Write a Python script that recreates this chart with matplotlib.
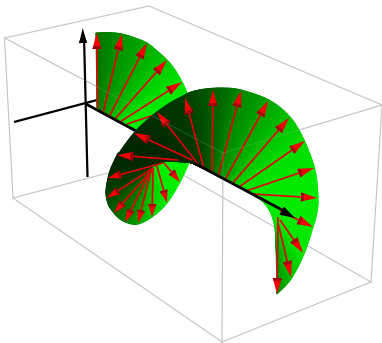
import numpy as np
import matplotlib
matplotlib.use('Agg')
import matplotlib.pyplot as plt
from matplotlib.collections import LineCollection
from matplotlib.colors import LinearSegmentedColormap

# bounding box edges
box_edges = [((4.5, 38), (149, 6)), ((149, 6), (382, 105)), ((4.5, 38), (223, 153)),
             ((223, 153), (382, 105)), ((4.5, 38), (13, 198)), ((223, 153), (222, 342)),
             ((382, 105), (371, 282)), ((13, 198), (222, 342)), ((222, 342), (371, 282)),
             ((13, 198), (157, 160)), ((157, 160), (371, 282))]
front_edges = [((4.5, 38), (223, 153)), ((223, 153), (382, 105)), ((223, 153), (222, 342))]

# surface strips: rim point, point on the axis, green level
lobe1_rim = [(96, 33), (108, 32.5), (122, 34), (135, 38), (147, 43), (157, 51), (167, 60),
             (175, 70), (182, 82), (187, 93), (195, 115)]
lobe1_base = [(97, 108), (100, 110), (103, 113), (106, 115), (109, 117), (112, 118),
              (115, 119), (118, 121), (120, 122), (124, 124), (133, 130)]
lobe1_green = [115, 130, 145, 158, 170, 185, 200, 215, 228, 235, 235]

lobe2_rim = [(277, 294), (291, 279), (304, 254), (313, 227), (317, 212), (318, 197), (315, 170),
             (304, 140), (290, 117), (269, 100), (241, 90), (223, 88), (205, 89), (191, 92),
             (183, 96), (170, 103), (157, 112), (145, 122), (134, 133), (124, 146), (115, 159)]
lobe2_base = [(276, 245), (275, 228), (272, 216), (268, 208), (262, 201), (253, 195), (246, 191),
              (239, 187), (232, 183), (225, 180), (218, 176), (212, 173), (208, 171), (205, 169),
              (202, 168), (200, 167), (198, 166), (196, 165), (194, 164), (192, 163), (187, 162)]
lobe2_green = [140, 190, 230, 235, 235, 235, 232, 220, 195, 165, 135, 105, 85, 70,
               60, 55, 50, 45, 40, 38, 38]

lobe3_rim = [(118, 153), (111, 168), (108, 178), (106, 190), (106.5, 198), (109, 206), (114, 213),
             (120, 219), (128, 223), (138, 224), (152, 217), (167, 203), (180, 182), (189, 163)]
lobe3_base = [(190, 162), (175, 162), (165, 163), (157, 166), (153, 168), (152, 169), (151, 170),
              (150, 171), (150, 172), (151, 171), (153, 168), (157, 166), (164, 163), (175, 160)]
lobe3_green = [40, 42, 50, 60, 70, 85, 100, 115, 130, 165, 205, 235, 240, 240]

# red arrows, tail and tip
lobe1_tails = [(97.7, 108), (103, 113), (109, 117), (115, 119), (120, 122), (127, 124)]
lobe1_tips = [(96.7, 33), (122, 34), (147, 43), (167, 60), (182, 82), (190, 103)]
lobe2_tails = [(212, 173), (218, 177), (225, 180), (232, 184), (239, 187), (246, 191), (253, 194),
               (204, 169), (198, 164), (192, 160), (178, 160)]
lobe2_tips = [(213, 90), (241, 91), (268, 101), (289, 118), (305, 141), (314, 168), (317, 198),
              (185, 98), (157, 112), (134, 133), (117, 155)]
lobe3_tails = [(163, 163), (153, 168), (152, 170), (150, 172), (151, 171), (153, 168), (157, 166),
               (164, 163)]
lobe3_tips = [(108, 178), (107, 198), (114, 213), (125, 222), (138, 223), (152, 217), (167, 203),
              (180, 182)]
end_tails = [(280, 211), (280, 220), (278, 223), (278, 217)]
end_tips = [(313, 227), (303, 253), (291, 277), (277, 294)]

# black axes
axis_v = [(87.5, 177), (84, 36)]
axis_v_tip = (82.7, 28)
axis_back = [(14, 122), (97, 100)]
axis_main_a = [(86, 104), (136, 131)]
axis_main_b = [(194, 163), (286, 212)]
axis_main_tip = (295, 218)

greens = LinearSegmentedColormap.from_list('greens', [(0, 0, 0), (0, 1, 0)])


def smooth(points, n=6):
    # catmull-rom through the read points, so the rim is a curve and not a polygon
    p = np.array(points, float)
    p = np.vstack([2 * p[0] - p[1], p, 2 * p[-1] - p[-2]])
    out = []
    for i in range(1, len(p) - 2):
        for t in np.linspace(0, 1, n, endpoint=False):
            out.append(0.5 * (2 * p[i] + (p[i + 1] - p[i - 1]) * t
                              + (2 * p[i - 1] - 5 * p[i] + 4 * p[i + 1] - p[i + 2]) * t ** 2
                              + (3 * p[i] - p[i - 1] - 3 * p[i + 1] + p[i + 2]) * t ** 3))
    out.append(p[-2])
    return np.array(out)


def draw_strip(ax, rim, base, green, z, n=6):
    rim = smooth(rim, n)
    base = smooth(base, n)
    idx = np.linspace(0, len(green) - 1, len(rim))
    g = np.interp(idx, np.arange(len(green)), green) / 255.0
    X = np.vstack([rim[:, 0], base[:, 0]])
    Y = np.vstack([rim[:, 1], base[:, 1]])
    ax.pcolormesh(X, Y, np.vstack([g, g]), shading='gouraud', cmap=greens, vmin=0, vmax=1, zorder=z)
    # thin stroke along the rim for a clean edge
    segs = np.stack([rim[:-1], rim[1:]], axis=1)
    cols = [(0, v, 0) for v in g[:-1]]
    ax.add_collection(LineCollection(segs, colors=cols, linewidths=0.5, zorder=z))


def draw_head(ax, tip, direction, length, width, colour, dark, z):
    tip = np.array(tip, float)
    d = np.array(direction, float)
    d = d / np.hypot(*d)
    n = np.array([-d[1], d[0]])
    back = tip - d * length
    ax.fill(*zip(tip, back + n * width / 2, back - n * width / 2), color=colour, lw=0, zorder=z)
    # darker band where the cone ends
    mid = tip - d * length * 0.82
    ax.fill(*zip(back + n * width / 2, back - n * width / 2,
                 mid - n * width * 0.41, mid + n * width * 0.41),
            color=dark, lw=0, zorder=z + 0.01)


def draw_arrows(ax, tails, tips, z, length=16, width=9):
    for t, p in zip(tails, tips):
        t = np.array(t, float)
        p = np.array(p, float)
        d = p - t
        neck = p - d / np.hypot(*d) * length * 0.8
        ax.plot([t[0], neck[0]], [t[1], neck[1]], color='#e60008', lw=1.2,
                solid_capstyle='butt', zorder=z)
        draw_head(ax, p, d, length, width, '#f60008', '#a00010', z + 0.1)


fig = plt.figure(figsize=(3.82, 3.43), dpi=100)
ax = fig.add_axes([0, 0, 1, 1])
ax.set_xlim(0, 382)
ax.set_ylim(343, 0)
ax.axis('off')

for a, b in box_edges:
    ax.plot([a[0], b[0]], [a[1], b[1]], color='#c4c4c4', lw=0.8, zorder=1)

ax.plot(*zip(*axis_back), color='k', lw=1.6, solid_capstyle='butt', zorder=2)
ax.plot(*zip(*axis_v), color='k', lw=1.6, solid_capstyle='butt', zorder=2)
draw_head(ax, axis_v_tip, (-3.5, -149), 15, 8, 'k', 'k', 2)

draw_strip(ax, lobe1_rim, lobe1_base, lobe1_green, 3)
draw_arrows(ax, lobe1_tails, lobe1_tips, 4)
ax.plot(*zip(*axis_main_a), color='k', lw=2.0, solid_capstyle='butt', zorder=5)

draw_strip(ax, lobe3_rim, lobe3_base, lobe3_green, 6)
draw_arrows(ax, lobe3_tails, lobe3_tips, 7, length=13, width=8)

draw_strip(ax, lobe2_rim, lobe2_base, lobe2_green, 8)
draw_arrows(ax, lobe2_tails, lobe2_tips, 9)
draw_arrows(ax, end_tails, end_tips, 10)

ax.plot(*zip(*axis_main_b), color='k', lw=2.0, solid_capstyle='butt', zorder=11)
draw_head(ax, axis_main_tip, (209, 114), 15, 9, 'k', 'k', 11)

# box edges in front of the surface only show faintly
for a, b in front_edges:
    ax.plot([a[0], b[0]], [a[1], b[1]], color='#c4c4c4', lw=0.8, alpha=0.2, zorder=12)

fig.savefig('out.png', dpi=100)
